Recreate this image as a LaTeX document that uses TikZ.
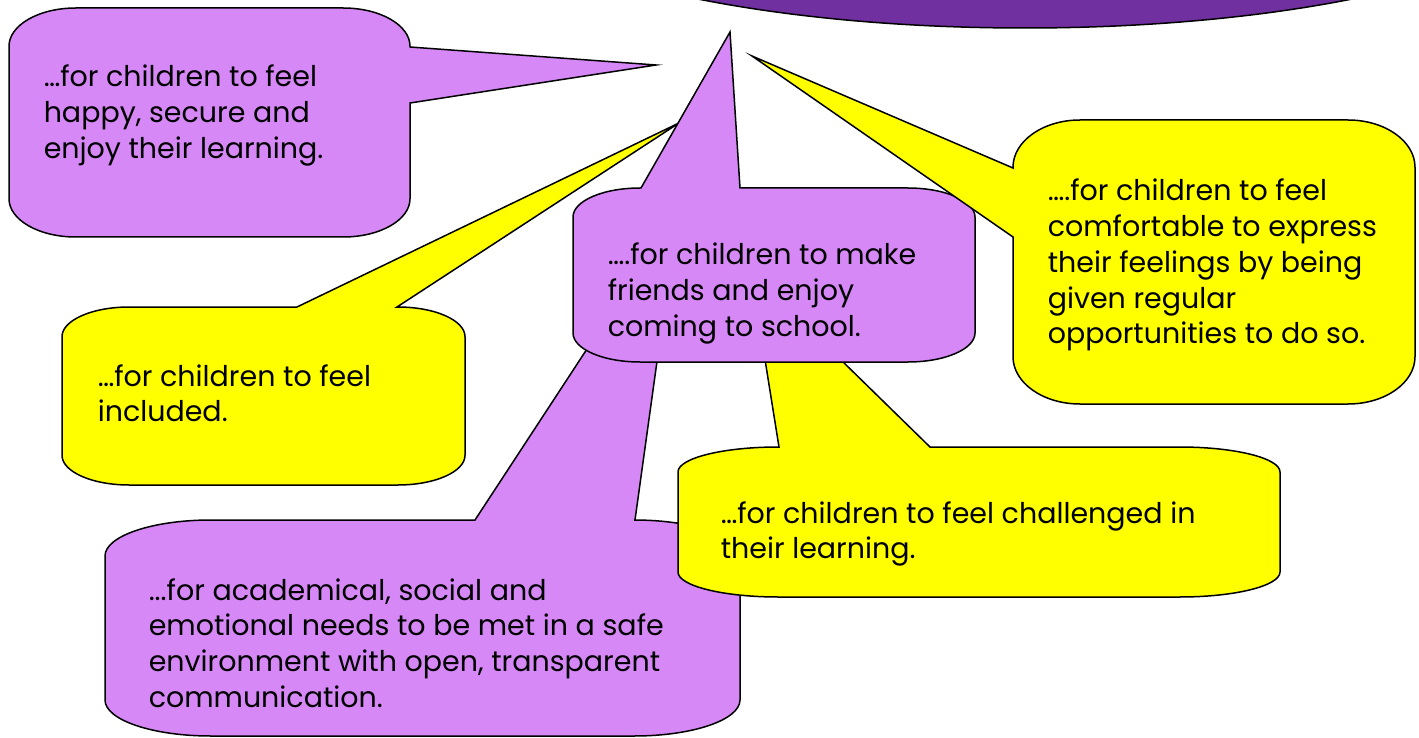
\documentclass[tikz,border=0pt]{standalone}
\usepackage{fontspec}
\setmainfont{Poppins}

\definecolor{lilac}{RGB}{214,136,246}
\definecolor{callyellow}{RGB}{255,255,0}
\definecolor{deeppurple}{RGB}{112,48,160}

% left-aligned lines with a fixed baseline distance; the node's baseline is that of the first line
\newcommand{\calltext}[1]{\vtop{\baselineskip=35.7pt\lineskiplimit=-\maxdimen
  \halign{##\hfil\cr#1\crcr}}}

\begin{document}
\begin{tikzpicture}[x=1pt,y=-1pt,line width=1.5pt,
  bubble/.style={draw=black,line join=miter},
  lilacbubble/.style={bubble,fill=lilac},
  yellowbubble/.style={bubble,fill=callyellow},
  tl/.style={start angle=180,end angle=90,x radius=\rx pt,y radius=\ry pt},
  tr/.style={start angle=90,end angle=0,x radius=\rx pt,y radius=\ry pt},
  br/.style={start angle=0,end angle=-90,x radius=\rx pt,y radius=\ry pt},
  bl/.style={start angle=-90,end angle=-180,x radius=\rx pt,y radius=\ry pt},
  say/.style={anchor=base west,inner sep=0pt,font=\fontsize{28.5}{35.7}\selectfont}]

\useasboundingbox (0,0) rectangle (1419,738);
\clip (0,0) rectangle (1419,738);

% heading ellipse, mostly above the page
\draw[fill=deeppurple,line width=1.5pt] (1025,-120) ellipse [x radius=550pt,y radius=148pt];

% happy and secure
\def\rx{66.8}\def\ry{38.2}
\path[lilacbubble] (9,8+\ry) arc[tl] -- (410-\rx,8) arc[tr] -- (410,47) -- (656,65) -- (410,103)
  -- (410,237-\ry) arc[br] -- (9+\rx,237) arc[bl] -- cycle;
\node[say] (happy) at (43,87) {\calltext{…for children to feel\cr happy, secure and\cr enjoy their learning.}};

% included
\def\rx{67.2}\def\ry{29.7}
\path[yellowbubble] (62,307+\ry) arc[tl] -- (297,307) -- (679,123) -- (397,307) -- (465-\rx,307) arc[tr]
  -- (465,485-\ry) arc[br] -- (62+\rx,485) arc[bl] -- cycle;
\node[say] (included) at (97,386) {\calltext{…for children to feel\cr included.}};

% needs met in a safe environment
\def\rx{105.8}\def\ry{36}
\path[lilacbubble] (105,520+\ry) arc[tl] -- (475,520) -- (678,210) -- (635,520) -- (740-\rx,520) arc[tr]
  -- (740,736-\ry) arc[br] -- (105+\rx,736) arc[bl] -- cycle;
\node[say] (needs) at (148,600) {\calltext{...for academical, social and\cr emotional needs to be met in a safe\cr environment with open, transparent\cr communication.}};

% challenged
\def\rx{100.3}\def\ry{25}
\path[yellowbubble] (678,447+\ry) arc[tl] -- (779,447) -- (751,272) -- (930,447) -- (1280-\rx,447) arc[tr]
  -- (1280,597-\ry) arc[br] -- (678+\rx,597) arc[bl] -- cycle;
\node[say] (challenged) at (720,523) {\calltext{…for children to feel challenged in\cr their learning.}};

% friends
\def\rx{67}\def\ry{29}
\path[lilacbubble] (573,188+\ry) arc[tl] -- (641,188) -- (730,32) -- (740,188) -- (975-\rx,188) arc[tr]
  -- (975,362-\ry) arc[br] -- (573+\rx,362) arc[bl] -- cycle;
\node[say] (friends) at (607,265) {\calltext{….for children to make\cr friends and enjoy\cr coming to school.}};

% express feelings
\def\rx{67}\def\ry{47.3}
\path[yellowbubble] (1013,120+\ry) arc[tl] -- (1415-\rx,120) arc[tr] -- (1415,404-\ry) arc[br]
  -- (1013+\rx,404) arc[bl] -- (1013,237) -- (752,56) -- (1013,168) -- cycle;
\node[say] (express) at (1047,201) {\calltext{….for children to feel\cr comfortable to express\cr their feelings by being\cr given regular\cr opportunities to do so.}};

\end{tikzpicture}
\end{document}
